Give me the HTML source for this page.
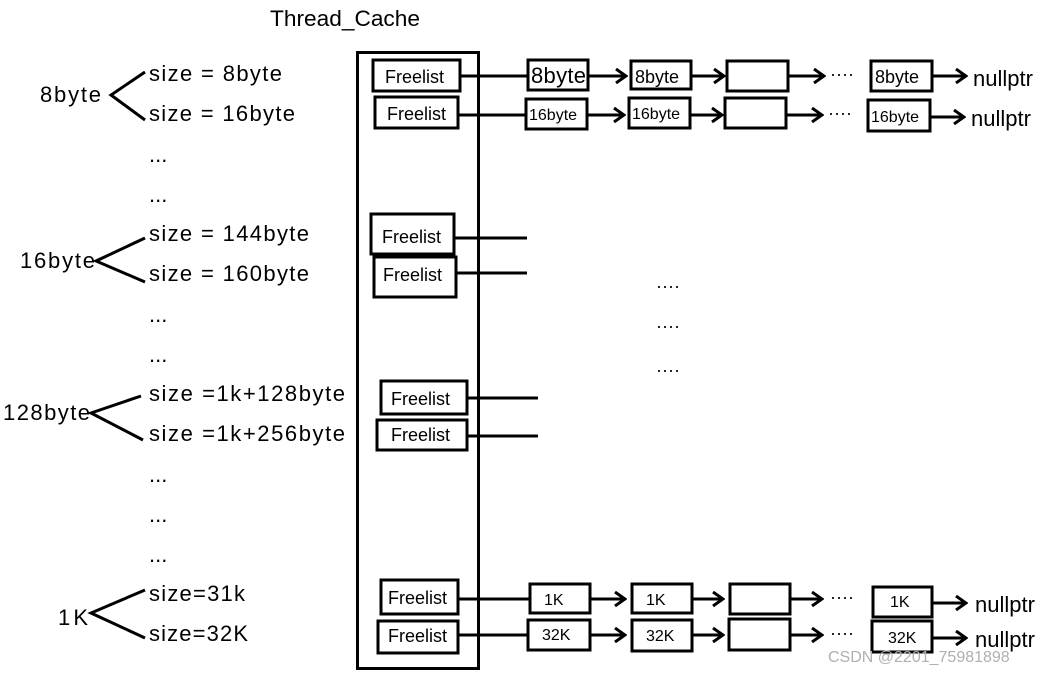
<!DOCTYPE html>
<html><head><meta charset="utf-8"><style>
html,body{margin:0;padding:0;background:#fff;}
svg{display:block;}
text{font-family:"Liberation Sans",sans-serif;fill:#000;}
.l{font-size:22px;}
.b{font-size:18px;}
.s{font-size:16px;}
rect{fill:#fff;stroke:#000;stroke-width:3;}
line,polyline{stroke:#000;stroke-width:3;fill:none;}
</style></head><body>
<svg width="1056" height="674" viewBox="0 0 1056 674" xmlns="http://www.w3.org/2000/svg">
<text x="270" y="26" class="l" textLength="150" lengthAdjust="spacingAndGlyphs">Thread_Cache</text>

<!-- left labels -->
<text x="40" y="102" class="l" textLength="61">8byte</text>
<polyline points="145,72 111,95 145,120"/>
<text x="149" y="81" class="l" textLength="133">size = 8byte</text>
<text x="149" y="121" class="l" textLength="146">size = 16byte</text>
<text x="149" y="162" class="l">...</text>
<text x="149" y="202" class="l">...</text>
<text x="20" y="268" class="l" textLength="75">16byte</text>
<polyline points="145,238 96,261 145,282"/>
<text x="149" y="241" class="l" textLength="160">size = 144byte</text>
<text x="149" y="281" class="l" textLength="160">size = 160byte</text>
<text x="149" y="322" class="l">...</text>
<text x="149" y="362" class="l">...</text>
<text x="3" y="420" class="l" textLength="87">128byte</text>
<polyline points="141,396 91,413 143,440"/>
<text x="149" y="401" class="l" textLength="196">size =1k+128byte</text>
<text x="149" y="441" class="l" textLength="196">size =1k+256byte</text>
<text x="149" y="482" class="l">...</text>
<text x="149" y="522" class="l">...</text>
<text x="149" y="562" class="l">...</text>
<text x="58" y="625" class="l" textLength="30">1K</text>
<polyline points="145,590 91,613 145,638"/>
<text x="149" y="601" class="l" textLength="96">size=31k</text>
<text x="149" y="641" class="l" textLength="99">size=32K</text>

<!-- main container -->
<rect x="357.5" y="52.5" width="121" height="616"/>

<defs><marker id="a" markerWidth="14" markerHeight="16" refX="12" refY="8" orient="auto" markerUnits="userSpaceOnUse"><polyline points="2,1 12,8 2,15" style="stroke:#000;stroke-width:3;fill:none"/></marker></defs>

<!-- row 1 -->
<rect x="373" y="60" width="87" height="31"/><text x="385" y="83" class="b">Freelist</text>
<line x1="460" y1="76" x2="528" y2="76"/>
<rect x="528" y="60" width="60" height="30"/><text x="531" y="83" class="l" textLength="55">8byte</text>
<line x1="588" y1="76" x2="626" y2="76" marker-end="url(#a)"/>
<rect x="631" y="61" width="60" height="28"/><text x="635" y="83" class="b">8byte</text>
<line x1="691" y1="76" x2="724" y2="76" marker-end="url(#a)"/>
<rect x="727" y="61" width="61" height="30"/>
<line x1="788" y1="76" x2="824" y2="76" marker-end="url(#a)"/>
<text x="830" y="80" class="b">····</text>
<rect x="871" y="61" width="61" height="30"/><text x="875" y="83" class="b">8byte</text>
<line x1="932" y1="76" x2="966" y2="76" marker-end="url(#a)"/>
<text x="973" y="86" class="l">nullptr</text>

<!-- row 2 -->
<rect x="375" y="97" width="83" height="31"/><text x="387" y="120" class="b">Freelist</text>
<line x1="458" y1="115" x2="526" y2="115"/>
<rect x="526" y="99" width="61" height="30"/><text x="529" y="120" class="s">16byte</text>
<line x1="587" y1="115" x2="624" y2="115" marker-end="url(#a)"/>
<rect x="629" y="98" width="61" height="30"/><text x="632" y="119" class="s">16byte</text>
<line x1="690" y1="115" x2="722" y2="115" marker-end="url(#a)"/>
<rect x="725" y="98" width="61" height="30"/>
<line x1="786" y1="115" x2="822" y2="115" marker-end="url(#a)"/>
<text x="828" y="119" class="b">····</text>
<rect x="868" y="100" width="62" height="31"/><text x="871" y="122" class="s">16byte</text>
<line x1="930" y1="117" x2="964" y2="117" marker-end="url(#a)"/>
<text x="971" y="126" class="l">nullptr</text>

<!-- middle freelists -->
<rect x="371" y="214" width="83" height="40"/><text x="382" y="243" class="b">Freelist</text>
<line x1="454" y1="238" x2="527" y2="238"/>
<rect x="374" y="257" width="82" height="40"/><text x="383" y="281" class="b">Freelist</text>
<line x1="456" y1="273" x2="527" y2="273"/>
<rect x="381" y="381" width="86" height="33"/><text x="391" y="405" class="b">Freelist</text>
<line x1="467" y1="398" x2="538" y2="398"/>
<rect x="377" y="420" width="90" height="30"/><text x="391" y="441" class="b">Freelist</text>
<line x1="467" y1="436" x2="538" y2="436"/>
<text x="656" y="292" class="b">····</text>
<text x="656" y="332" class="b">····</text>
<text x="656" y="376" class="b">····</text>

<!-- bottom row 1 -->
<rect x="381" y="580" width="77" height="34"/><text x="388" y="604" class="b">Freelist</text>
<line x1="458" y1="599" x2="530" y2="599"/>
<rect x="530" y="584" width="60" height="29"/><text x="544" y="605" class="s">1K</text>
<line x1="590" y1="599" x2="625" y2="599" marker-end="url(#a)"/>
<rect x="632" y="584" width="60" height="29"/><text x="646" y="605" class="s">1K</text>
<line x1="692" y1="599" x2="723" y2="599" marker-end="url(#a)"/>
<rect x="730" y="584" width="60" height="30"/>
<line x1="790" y1="599" x2="822" y2="599" marker-end="url(#a)"/>
<text x="830" y="603" class="b">····</text>
<rect x="873" y="587" width="59" height="30"/><text x="890" y="607" class="s">1K</text>
<line x1="932" y1="603" x2="966" y2="603" marker-end="url(#a)"/>
<text x="975" y="612" class="l">nullptr</text>

<!-- bottom row 2 -->
<rect x="378" y="621" width="80" height="32"/><text x="388" y="642" class="b">Freelist</text>
<line x1="458" y1="635" x2="528" y2="635"/>
<rect x="528" y="620" width="62" height="30"/><text x="542" y="640" class="s">32K</text>
<line x1="590" y1="635" x2="625" y2="635" marker-end="url(#a)"/>
<rect x="632" y="620" width="60" height="31"/><text x="646" y="641" class="s">32K</text>
<line x1="692" y1="635" x2="723" y2="635" marker-end="url(#a)"/>
<rect x="729" y="619" width="61" height="31"/>
<line x1="790" y1="635" x2="822" y2="635" marker-end="url(#a)"/>
<text x="830" y="639" class="b">····</text>
<rect x="872" y="621" width="60" height="31"/><text x="888" y="643" class="s">32K</text>
<line x1="932" y1="638" x2="966" y2="638" marker-end="url(#a)"/>
<text x="975" y="647" class="l">nullptr</text>

<text x="828" y="662" style="font-size:16px;fill:#b0b0b0">CSDN @2201_75981898</text>
</svg>
</body></html>
